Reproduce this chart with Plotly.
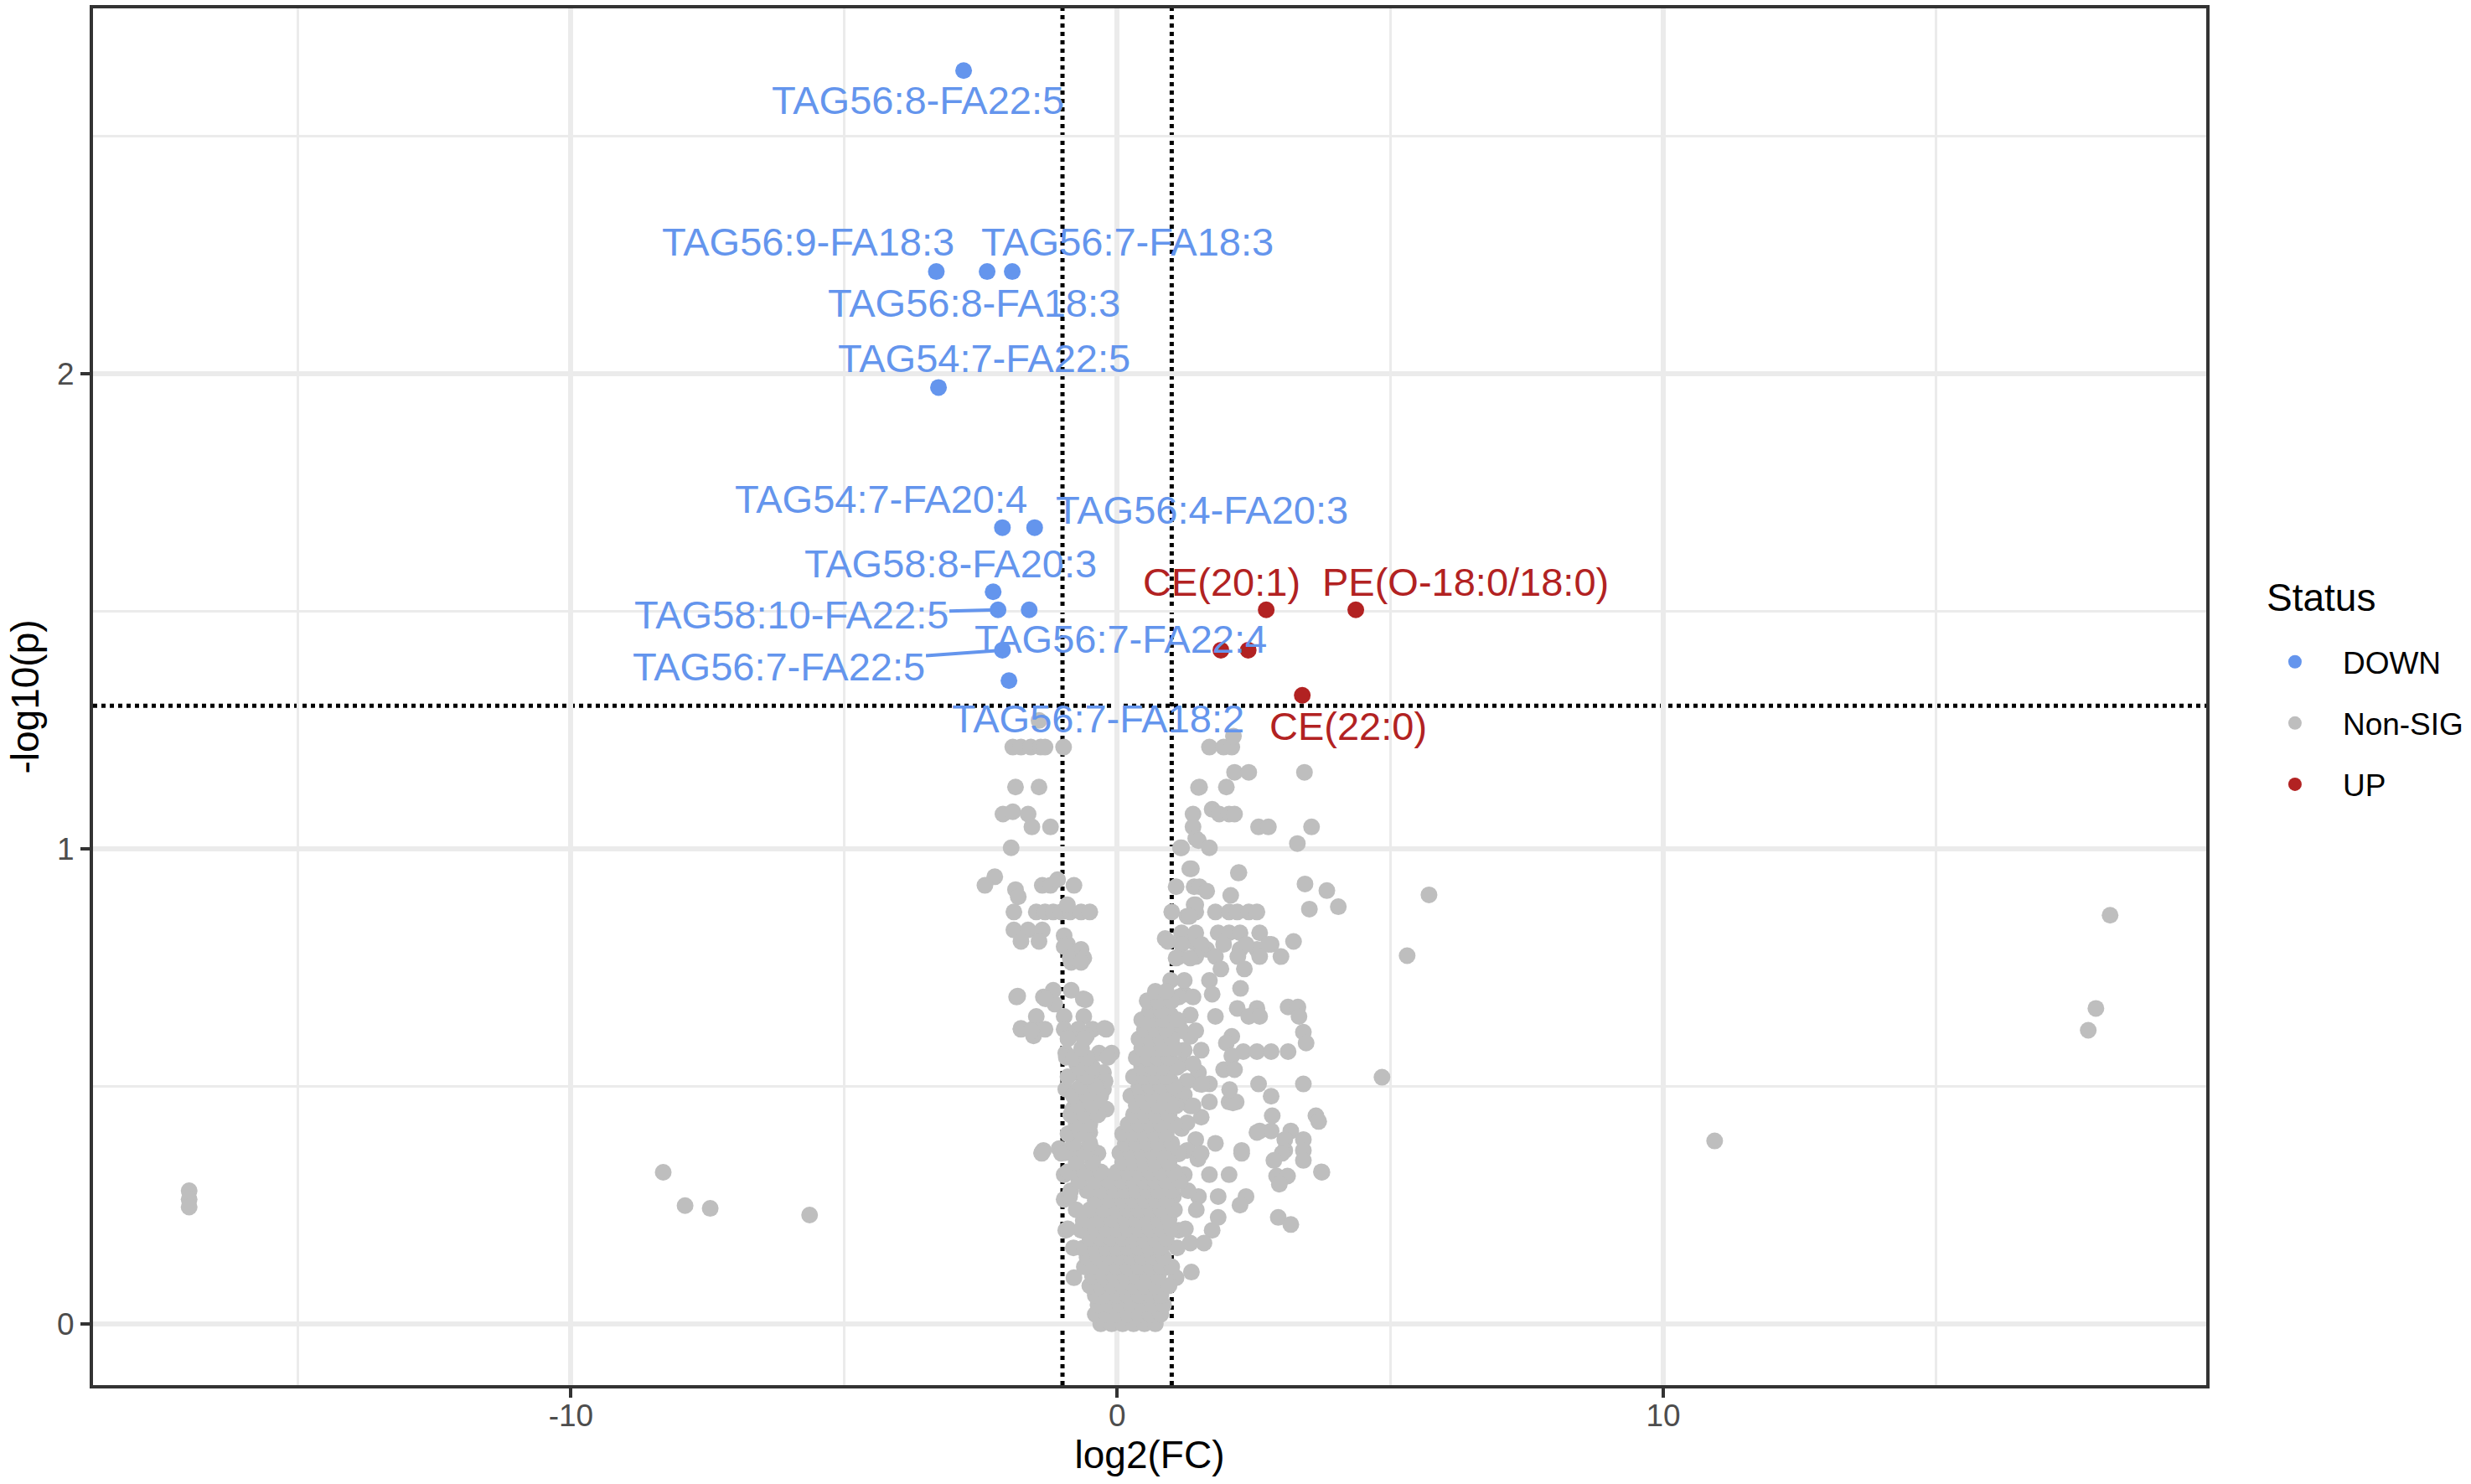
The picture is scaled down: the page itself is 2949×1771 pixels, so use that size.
import plotly.graph_objects as go

# thresholds
FC_CUT = 1
P_CUT = 0.05
P_LINE = 1.30103  # -log10(0.05)

# significant - down
down_names = ["TAG56:8-FA22:5", "TAG56:9-FA18:3", "TAG56:8-FA18:3", "TAG56:7-FA18:3",
              "TAG54:7-FA22:5", "TAG54:7-FA20:4", "TAG56:4-FA20:3", "TAG58:8-FA20:3",
              "TAG58:10-FA22:5", "TAG56:7-FA22:4", "TAG56:7-FA22:5", "TAG56:7-FA18:2"]
down_x = [-2.81, -3.31, -2.38, -1.92, -3.27, -2.10, -1.51, -2.27, -2.18, -1.61, -2.10, -1.98]
down_y = [2.638, 2.215, 2.215, 2.215, 1.971, 1.676, 1.676, 1.541, 1.503, 1.503, 1.418, 1.354]

# significant - up
up_names = ["CE(20:1)", "PE(O-18:0/18:0)", "", "", "CE(22:0)"]
up_x = [2.73, 4.37, 1.90, 2.40, 3.39]
up_y = [1.503, 1.503, 1.418, 1.418, 1.323]

# non significant, scattered ones
nonsig_pts = [
    # far outliers
    (-16.99, 0.280), (-16.99, 0.262), (-16.99, 0.246), (-8.31, 0.319), (-7.91, 0.249),
    (-7.45, 0.243), (-5.63, 0.229), (10.94, 0.385), (17.78, 0.618), (17.92, 0.664),
    (18.18, 0.860), (5.71, 0.903), (5.31, 0.775), (4.85, 0.519), (4.05, 0.878),
    (3.84, 0.912), (3.52, 0.873), (3.44, 0.926), (3.75, 0.319),
    # left column, upper
    (-1.43, 1.270), (-1.91, 1.214), (-1.76, 1.214), (-1.58, 1.214), (-1.40, 1.214),
    (-1.32, 1.214), (-0.98, 1.214), (-1.86, 1.130), (-1.43, 1.130), (-2.09, 1.073),
    (-1.91, 1.078), (-1.63, 1.073), (-1.56, 1.046), (-1.22, 1.046), (-1.94, 1.002),
    (-2.24, 0.941), (-2.42, 0.923), (-1.86, 0.914), (-1.81, 0.899), (-1.37, 0.923),
    (-1.22, 0.923), (-1.09, 0.935), (-0.79, 0.923), (-1.89, 0.867), (-1.48, 0.867),
    (-1.32, 0.867), (-1.17, 0.867), (-1.02, 0.867), (-0.86, 0.867), (-0.66, 0.867),
    (-0.50, 0.867), (-0.91, 0.882), (-1.89, 0.829), (-1.63, 0.829), (-1.37, 0.829),
    (-0.97, 0.817), (-1.76, 0.805), (-1.43, 0.805), (-0.91, 0.799), (-0.66, 0.788),
    # left column, lower
    (-0.97, 0.794), (-0.86, 0.770), (-0.61, 0.770), (-0.84, 0.761), (-0.66, 0.761),
    (-1.84, 0.688), (-1.17, 0.702), (-0.84, 0.702), (-1.35, 0.688), (-0.58, 0.682),
    (-1.14, 0.673), (-1.48, 0.647), (-0.97, 0.647), (-0.61, 0.647), (-1.76, 0.620),
    (-1.55, 0.620), (-1.32, 0.620), (-0.97, 0.620), (-0.71, 0.620), (-0.45, 0.620),
    (-0.20, 0.620), (-1.53, 0.606), (-0.86, 0.606), (-0.56, 0.606), (-0.94, 0.570),
    (-0.33, 0.570), (-0.10, 0.570), (-0.74, 0.547), (-0.50, 0.547), (-0.71, 0.529),
    (-0.45, 0.529), (-0.25, 0.529), (-0.22, 0.511), (-0.94, 0.494), (-0.71, 0.494),
    (-0.45, 0.494), (-0.25, 0.494), (-0.76, 0.470), (-0.50, 0.470), (-0.81, 0.452),
    (-0.45, 0.452), (-0.20, 0.452), (-0.50, 0.403), (-1.35, 0.365), (-1.02, 0.365),
    (-0.76, 0.365), (-0.45, 0.365), (-1.82, 0.690), (-1.76, 0.622), (-1.57, 0.617),
    (-1.31, 0.684), (-1.38, 0.360), (-1.06, 0.369), (-0.93, 0.561), (-0.62, 0.684),
    (-0.23, 0.622), (-0.17, 0.561), (-0.55, 0.397), (-0.49, 0.319), (-0.81, 0.319),
    (-0.97, 0.262), (-0.62, 0.217), (-0.17, 0.229),
    # right side, upper
    (1.49, 1.129), (1.39, 1.073), (1.39, 1.046), (1.44, 1.022), (1.18, 1.002),
    (1.33, 0.958), (1.08, 0.920), (1.41, 0.920), (1.00, 0.867), (1.41, 0.882),
    (1.28, 0.858), (0.88, 0.811), (1.23, 0.805), (1.39, 0.805), (1.69, 1.214),
    (1.95, 1.214), (2.10, 1.214), (2.13, 1.237), (2.15, 1.161), (2.41, 1.161),
    (3.43, 1.161), (1.51, 1.130), (2.00, 1.130), (1.74, 1.083), (1.87, 1.073),
    (2.05, 1.073), (2.15, 1.073), (2.59, 1.046), (2.77, 1.046), (3.56, 1.046),
    (1.49, 1.017), (3.30, 1.011), (1.16, 1.002), (1.69, 1.002), (1.36, 0.958),
    (2.23, 0.950), (1.51, 0.920), (1.64, 0.911), (2.08, 0.902), (1.44, 0.867),
    (1.80, 0.867), (2.05, 0.867), (2.20, 0.867), (2.41, 0.867), (2.56, 0.867),
    (1.44, 0.882), (1.33, 0.858), (1.18, 0.823), (1.44, 0.823), (1.85, 0.823),
    (2.05, 0.823), (2.25, 0.823), (2.61, 0.823), (3.23, 0.805), (2.82, 0.799),
    (1.64, 0.788), (2.25, 0.788), (2.56, 0.788), (2.22, 0.949),
    # right side, middle
    (1.18, 0.799), (1.54, 0.799), (1.95, 0.799), (2.36, 0.799), (2.77, 0.799),
    (1.13, 0.773), (1.44, 0.773), (1.80, 0.773), (2.21, 0.773), (2.61, 0.773),
    (3.00, 0.773), (1.90, 0.747), (2.33, 0.747), (1.69, 0.723), (2.26, 0.706),
    (1.23, 0.694), (1.74, 0.694), (3.13, 0.667), (3.31, 0.667), (2.20, 0.664),
    (2.56, 0.664), (1.80, 0.647), (2.41, 0.647), (2.61, 0.647), (3.33, 0.647),
    (3.41, 0.614), (2.10, 0.605), (2.00, 0.591), (3.46, 0.591), (2.31, 0.573),
    (2.56, 0.573), (2.82, 0.573), (3.13, 0.573), (2.10, 0.564), (1.95, 0.535),
    (2.15, 0.535), (1.51, 0.505), (1.69, 0.505), (2.59, 0.505), (3.41, 0.505),
    (2.82, 0.479), (1.69, 0.467), (2.05, 0.467), (2.18, 0.467), (2.84, 0.438),
    (3.64, 0.438), (3.69, 0.426), (2.61, 0.406), (2.82, 0.406), (3.18, 0.406),
    (3.07, 0.388), (3.41, 0.388), (2.28, 0.365), (3.07, 0.365), (3.41, 0.365),
    (1.13, 0.635), (1.34, 0.605), (1.54, 0.576), (1.18, 0.547), (1.49, 0.529),
    (1.13, 0.482), (1.34, 0.459), (1.54, 0.435), (1.18, 0.411), (1.44, 0.388),
    (1.28, 0.365), (0.93, 0.805), (1.08, 0.770), (1.34, 0.770), (0.98, 0.723),
    (1.23, 0.723), (1.13, 0.688), (1.39, 0.688), (0.72, 0.667), (0.57, 0.650),
    (0.98, 0.650), (1.34, 0.650), (0.62, 0.617), (0.88, 0.617), (1.18, 0.617),
    (1.44, 0.617), (0.65, 0.576), (0.93, 0.576), (1.23, 0.576), (0.78, 0.547),
    (1.08, 0.547), (1.39, 0.547), (0.42, 0.511), (0.67, 0.511), (0.98, 0.511),
    (1.28, 0.511), (0.57, 0.482), (0.88, 0.482), (1.23, 0.482), (0.42, 0.459),
    (0.72, 0.459), (1.08, 0.459), (1.39, 0.459), (0.67, 0.423), (0.98, 0.423),
    (1.28, 0.423), (0.44, 0.408), (0.21, 0.379), (0.57, 0.379), (0.88, 0.379),
    (0.11, 0.358), (0.47, 0.358), (0.78, 0.358), (1.13, 0.358), (1.48, 0.347),
    (1.80, 0.380), (2.12, 0.465), (2.06, 0.493), (1.55, 0.504), (2.56, 0.403),
    # bottom
    (-1.38, 0.359), (-1.02, 0.359), (-0.71, 0.359), (-0.35, 0.359), (0.11, 0.359),
    (0.52, 0.359), (0.82, 0.359), (1.13, 0.359), (1.54, 0.359), (2.28, 0.359),
    (3.02, 0.359), (3.41, 0.344), (2.87, 0.344), (3.74, 0.320), (-0.97, 0.314),
    (-0.61, 0.314), (-0.25, 0.314), (0.41, 0.314), (0.82, 0.314), (1.23, 0.314),
    (1.69, 0.314), (2.05, 0.314), (2.92, 0.311), (3.12, 0.311), (2.97, 0.294),
    (-0.87, 0.268), (-0.15, 0.268), (0.21, 0.268), (0.62, 0.268), (1.03, 0.268),
    (1.49, 0.268), (1.85, 0.268), (2.36, 0.268), (-0.40, 0.250), (0.41, 0.250),
    (0.82, 0.250), (2.25, 0.250), (1.85, 0.224), (2.95, 0.224), (3.18, 0.209),
    (-0.94, 0.197), (-0.66, 0.197), (-0.25, 0.197), (0.11, 0.197), (0.47, 0.197),
    (0.82, 0.197), (1.13, 0.197), (1.74, 0.197), (-0.20, 0.170), (0.16, 0.170),
    (0.52, 0.170), (0.88, 0.170), (1.34, 0.170), (1.59, 0.170), (-0.63, 0.159),
    (-0.40, 0.118), (-0.10, 0.118), (0.26, 0.118), (0.62, 0.118), (0.87, 0.118),
    (1.36, 0.109), (-0.79, 0.097), (1.08, 0.097),
]

# non significant, dense core near zero (rows of -log10(p) with their log2(FC) values)
core_rows = [
    (0.00, [-0.3, -0.1, 0.1, 0.3, 0.5, 0.7]),
    (0.02, [-0.4, -0.2, 0.0, 0.2, 0.4, 0.6, 0.8]),
    (0.04, [-0.35, -0.15, 0.05, 0.25, 0.45, 0.65, 0.85]),
    (0.06, [-0.4, -0.2, 0.0, 0.2, 0.4, 0.6, 0.8]),
    (0.08, [-0.5, -0.3, -0.1, 0.1, 0.3, 0.5, 0.7, 0.95]),
    (0.10, [-0.45, -0.25, -0.05, 0.15, 0.35, 0.55, 0.75]),
    (0.12, [-0.6, -0.4, -0.2, 0.0, 0.2, 0.4, 0.6, 0.8, 1.0]),
    (0.14, [-0.55, -0.35, -0.15, 0.05, 0.25, 0.45, 0.65, 0.85]),
    (0.16, [-0.8, -0.6, -0.4, -0.2, 0.0, 0.2, 0.4, 0.6, 0.8, 1.1]),
    (0.18, [-0.5, -0.3, -0.1, 0.1, 0.3, 0.5, 0.7, 0.9]),
    (0.20, [-0.9, -0.65, -0.4, -0.2, 0.0, 0.2, 0.4, 0.6, 0.8, 1.0, 1.25]),
    (0.22, [-0.6, -0.35, -0.1, 0.15, 0.35, 0.55, 0.75, 0.95]),
    (0.24, [-0.75, -0.5, -0.25, 0.0, 0.2, 0.4, 0.6, 0.8, 1.05, 1.45]),
    (0.26, [-0.4, -0.15, 0.1, 0.3, 0.5, 0.7, 0.9]),
    (0.28, [-0.85, -0.55, -0.3, -0.05, 0.15, 0.35, 0.55, 0.75, 1.0, 1.3]),
    (0.30, [-0.7, -0.4, -0.15, 0.1, 0.3, 0.5, 0.7, 0.9, 1.15]),
    (0.32, [-0.9, -0.6, -0.3, 0.0, 0.2, 0.4, 0.6, 0.8, 1.05]),
    (0.34, [-0.75, -0.45, 0.1, 0.3, 0.5, 0.7, 0.95]),
    (0.36, [-0.95, -0.6, 0.05, 0.25, 0.45, 0.65, 0.85]),
    (0.38, [-0.8, -0.5, 0.15, 0.35, 0.55, 0.75, 1.0]),
    (0.40, [-0.9, -0.65, 0.1, 0.3, 0.5, 0.7, 0.9]),
    (0.42, [-0.75, -0.5, 0.2, 0.4, 0.6, 0.8, 1.05]),
    (0.44, [-0.85, -0.6, -0.35, 0.3, 0.5, 0.7, 0.95]),
    (0.46, [-0.7, -0.45, 0.35, 0.55, 0.75, 1.0]),
    (0.48, [-0.8, -0.55, -0.3, 0.25, 0.45, 0.65, 0.85]),
    (0.50, [-0.65, -0.4, 0.4, 0.6, 0.8, 1.05]),
    (0.52, [-0.9, -0.55, 0.3, 0.5, 0.7, 0.9]),
    (0.54, [-0.7, -0.45, 0.45, 0.65, 0.85, 1.1]),
    (0.56, [-0.8, -0.55, 0.35, 0.55, 0.75, 0.95]),
    (0.58, [-0.65, 0.45, 0.65, 0.85, 1.05]),
    (0.60, [-0.9, -0.6, 0.4, 0.6, 0.8, 1.0]),
    (0.62, [0.5, 0.7, 0.9]),
    (0.64, [0.45, 0.65, 0.85, 1.1]),
    (0.66, [0.6, 0.8]),
    (0.68, [0.55, 0.75, 1.0]),
    (0.70, [0.7, 0.9]),
]

nonsig_x = [p[0] for p in nonsig_pts]
nonsig_y = [p[1] for p in nonsig_pts]
for yv, xs in core_rows:
    nonsig_x += xs
    nonsig_y += [yv] * len(xs)

BLUE = "#6495ED"
GREY = "#BEBEBE"
RED = "#B22222"
FONT = "Liberation Sans"
LABEL_SIZE = 47

# where ggrepel put the text (x, y, has_segment)
down_label_pos = {
    "TAG56:8-FA22:5": (-3.64, 2.575, False),
    "TAG56:9-FA18:3": (-5.65, 2.277, False),
    "TAG56:8-FA18:3": (-2.62, 2.149, False),
    "TAG56:7-FA18:3": (0.19, 2.277, False),
    "TAG54:7-FA22:5": (-2.43, 2.032, False),
    "TAG54:7-FA20:4": (-4.32, 1.736, False),
    "TAG56:4-FA20:3": (1.56, 1.714, False),
    "TAG58:8-FA20:3": (-3.05, 1.601, False),
    "TAG58:10-FA22:5": (-5.97, 1.492, True),
    "TAG56:7-FA22:4": (0.07, 1.441, False),
    "TAG56:7-FA22:5": (-6.20, 1.384, True),
    "TAG56:7-FA18:2": (-0.35, 1.275, False),
}
up_label_pos = {
    "CE(20:1)": (1.92, 1.562),
    "PE(O-18:0/18:0)": (6.38, 1.562),
    "CE(22:0)": (4.23, 1.258),
}

fig = go.Figure()
fig.add_trace(go.Scatter(x=nonsig_x, y=nonsig_y, mode="markers", name="Non-SIG",
                         marker=dict(color=GREY, size=20), legendgroup="b", legendrank=2))
fig.add_trace(go.Scatter(x=down_x, y=down_y, mode="markers", name="DOWN",
                         marker=dict(color=BLUE, size=20), legendgroup="a", legendrank=1))
fig.add_trace(go.Scatter(x=up_x, y=up_y, mode="markers", name="UP",
                         marker=dict(color=RED, size=20), legendgroup="c", legendrank=3))

for name, px, py in zip(down_names, down_x, down_y):
    lx, ly, seg = down_label_pos[name]
    if seg:
        fig.add_annotation(x=px, y=py, ax=lx, ay=ly, axref="x", ayref="y", text=name,
                           showarrow=True, arrowhead=0, arrowwidth=4, arrowcolor=BLUE,
                           standoff=0, font=dict(family=FONT, size=LABEL_SIZE, color=BLUE))
    else:
        fig.add_annotation(x=lx, y=ly, text=name, showarrow=False,
                           font=dict(family=FONT, size=LABEL_SIZE, color=BLUE))
for name in up_names:
    if name:
        lx, ly = up_label_pos[name]
        fig.add_annotation(x=lx, y=ly, text=name, showarrow=False,
                           font=dict(family=FONT, size=LABEL_SIZE, color=RED))

# legend title done as a separate text so the gap to the keys matches
fig.add_annotation(x=1.0278, y=0.5721, xref="paper", yref="paper", xanchor="left",
                   yanchor="middle", text="Status", showarrow=False,
                   font=dict(family=FONT, size=46, color="black"))

dotted = dict(color="black", width=5, dash="dot")
for xv in (-FC_CUT, FC_CUT):
    fig.add_shape(type="line", x0=xv, x1=xv, y0=0, y1=1, xref="x", yref="paper",
                  line=dotted, layer="between")
fig.add_shape(type="line", x0=0, x1=1, y0=P_LINE, y1=P_LINE, xref="paper", yref="y",
              line=dotted, layer="between")

axis_common = dict(
    showgrid=True, gridcolor="#EBEBEB", gridwidth=6, zeroline=False,
    showline=True, linecolor="#333333", linewidth=4, mirror=True,
    ticks="outside", ticklen=11, tickwidth=4, tickcolor="#333333",
    tickfont=dict(family=FONT, size=37, color="#4D4D4D"),
)

fig.update_layout(
    width=2949, height=1771,
    margin=dict(l=111, r=316, t=10, b=118, autoexpand=False),
    plot_bgcolor="white", paper_bgcolor="white",
    font=dict(family=FONT),
    xaxis=dict(range=[-18.75, 19.94], tickmode="array", tickvals=[-10, 0, 10],
               ticktext=["-10", "0", "10"], ticklabelstandoff=-10,
               minor=dict(tickmode="array", tickvals=[-15, -5, 5, 15], showgrid=True,
                          gridcolor="#EBEBEB", gridwidth=3, ticks=""),
               title=dict(text="log2(FC)", font=dict(family=FONT, size=46, color="black"),
                          standoff=8),
               **axis_common),
    yaxis=dict(range=[-0.129, 2.769], tickmode="array", tickvals=[0, 1, 2],
               ticktext=["0", "1", "2"],
               minor=dict(tickmode="array", tickvals=[0.5, 1.5, 2.5], showgrid=True,
                          gridcolor="#EBEBEB", gridwidth=3, ticks=""),
               title=dict(text="-log10(p)", font=dict(family=FONT, size=46, color="black"),
                          standoff=8),
               **axis_common),
    legend=dict(font=dict(family=FONT, size=37, color="black"),
                x=1.0194, xanchor="left", y=0.544, yanchor="top",
                traceorder="grouped", tracegroupgap=22, itemwidth=104,
                bgcolor="rgba(0,0,0,0)"),
)

fig.write_html("out.html", config={"displayModeBar": False},
               post_script="document.body.style.margin='0';document.body.style.overflow='hidden';")
